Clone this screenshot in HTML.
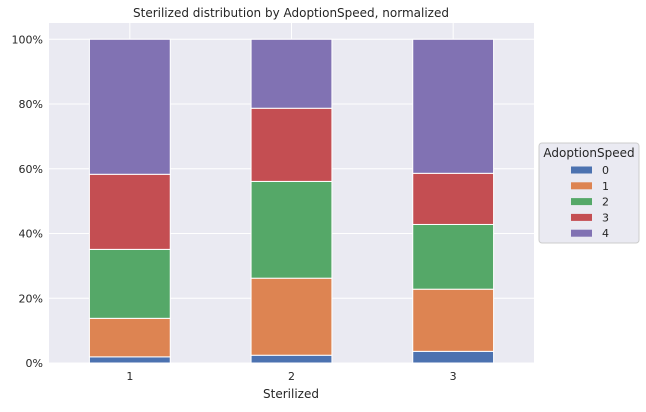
<!DOCTYPE html>
<html><head><meta charset="utf-8"><style>
body{margin:0;background:#fff;}
svg text{font-family:"DejaVu Sans","Liberation Sans",sans-serif;fill:#262626;}
</style></head><body>
<svg id="chart" width="646" height="407" xmlns="http://www.w3.org/2000/svg">
<text x="291" y="17" font-size="12" text-anchor="middle">Sterilized distribution by AdoptionSpeed, normalized</text>
<rect x="49" y="23" width="485" height="340" fill="#eaeaf2"/>
<g id="grid"></g><g id="bars"></g><g id="ticks"></g>
<text x="291" y="398" font-size="12" text-anchor="middle">Sterilized</text>
<g id="legend">
<rect x="539" y="143" width="100" height="100" rx="3" fill="#eaeaf2" stroke="#cccccc" stroke-width="1"/>
<text x="589" y="157" font-size="12" text-anchor="middle">AdoptionSpeed</text>
</g>
</svg>
<script>
const categories=["1","2","3"];
const speeds=["0","1","2","3","4"];
const s0=[1.9,2.4,3.6];
const s1=[11.9,23.8,19.2];
const s2=[21.3,29.9,20.0];
const s3=[23.2,22.6,15.8];
const s4=[41.7,21.3,41.4];
const yTicks=[0,20,40,60,80,100];
const series=[s0,s1,s2,s3,s4];
const colors=["#4c72b0","#dd8452","#55a868","#c44e52","#8172b3"];
const NS="http://www.w3.org/2000/svg";
const X0=49,X1=534,Y0=363,Y100=39.3;
const xs=i=>X0+(i+0.5)*(X1-X0)/categories.length;
const ys=v=>Y0-(v/100)*(Y0-Y100);
const bw=0.5*(X1-X0)/categories.length;
function mk(t,a,p){const e=document.createElementNS(NS,t);for(const k in a)e.setAttribute(k,a[k]);p.appendChild(e);return e;}
const grid=document.getElementById('grid'),bars=document.getElementById('bars'),ticks=document.getElementById('ticks');
yTicks.forEach(v=>{
 const l=mk('line',{x1:X0,x2:X1,y1:ys(v),y2:ys(v),stroke:'#fff','stroke-width':1},grid);
 
 
 const t=mk('text',{x:X0-6,y:ys(v)+4,'font-size':11,'text-anchor':'end'},ticks);
 t.textContent=v+'%';
 
 
});
categories.forEach((c,i)=>{
 const l=mk('line',{x1:xs(i),x2:xs(i),y1:23,y2:Y0,stroke:'#fff','stroke-width':1},grid);
 
 
 const t=mk('text',{x:xs(i),y:Y0+17,'font-size':11,'text-anchor':'middle'},ticks);
 t.textContent=c;
 
 
 let cum=0;
 series.forEach((s,k)=>{
  const y1=ys(cum+s[i]),y2=ys(cum);cum+=s[i];
  const r=mk('rect',{x:xs(i)-bw/2,y:y1,width:bw,height:y2-y1,fill:colors[k],stroke:'#fff','stroke-width':1},bars);
  
  
 });
});
const lg=document.getElementById('legend');
speeds.forEach((s,k)=>{
 const cy=170+k*15.8;
 const r=mk('rect',{x:571,y:cy-3.5,width:21,height:7,fill:colors[k]},lg);
 
 
 const t=mk('text',{x:602,y:cy+4,'font-size':11},lg);
 t.textContent=s;
 
 
});
</script>
</body></html>
